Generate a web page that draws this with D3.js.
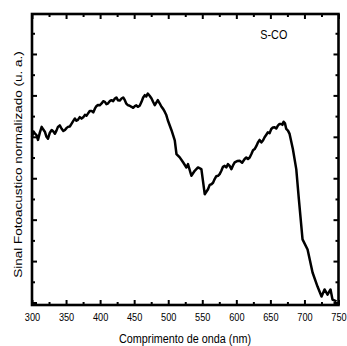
<!DOCTYPE html>
<html>
<head>
<meta charset="utf-8">
<script src="https://cdn.jsdelivr.net/npm/d3@7"></script>
<style>
body { margin: 0; background: #fff; }
text { font-family: "Liberation Sans", Arial, sans-serif; fill: #000; }
</style>
</head>
<body>
<svg width="347" height="346"></svg>
<script>
// wavelength (nm) and normalized photoacoustic signal
var wavelength = [300, 302.2, 304.4, 306.6, 308.8, 311.5, 314.2, 316.6, 319.1, 321.3,
  323.5, 326.2, 328.9, 331.3, 333.7, 335.9, 338.1, 340.8, 343.5, 346,
  348.4, 350.6, 352.8, 355.5, 358.2, 360.6, 363, 365.2, 367.4, 370.1,
  372.8, 375.2, 377.7, 379.9, 382.1, 384.8, 387.5, 389.9, 392.3, 394.5,
  396.7, 399.4, 402.2, 404.6, 407, 409.2, 411.4, 414.1, 416.8, 419.2,
  421.7, 423.9, 426.1, 428.8, 431.5, 433.9, 436.3, 438.5, 440.7, 443.4,
  446.1, 448.5, 451, 453.2, 455.4, 458.1, 460.8, 463.2, 465.6, 467.8,
  470, 472.7, 475.5, 477.9, 480.3, 482.5, 484.7, 487.4, 490.1, 492.5,
  495, 497.2, 499.4, 504.8, 509.6, 512.1, 516.9, 521.8, 526.7, 529,
  534, 538.9, 543.7, 548.7, 551, 553.6, 558.4, 560.9, 563.4, 565.8,
  568.2, 570.6, 573.1, 575.5, 578, 580.4, 582.9, 585.3, 587.7, 590.2,
  592.7, 595.1, 597.6, 601.2, 604.9, 608.5, 612.2, 614.6, 617.1, 619.6,
  622.1, 624.5, 626.9, 629.3, 631.7, 634.2, 636.7, 639.1, 641.5, 644,
  646.4, 648.9, 651.3, 653.7, 656.2, 658.6, 661, 663.5, 666, 667.7,
  669.4, 671.4, 673.3, 675.8, 678.2, 683, 688, 691.8, 697.2, 704.6,
  711.9, 719.2, 725.1, 729.5, 733.9, 738.3, 741.2, 747.1];
var signal = [0.799, 0.826, 0.815, 0.808, 0.785, 0.820, 0.848, 0.835, 0.823, 0.800,
  0.791, 0.820, 0.833, 0.826, 0.815, 0.830, 0.848, 0.855, 0.839, 0.828,
  0.833, 0.842, 0.848, 0.850, 0.864, 0.877, 0.888, 0.878, 0.882, 0.895,
  0.888, 0.894, 0.906, 0.902, 0.912, 0.925, 0.925, 0.918, 0.936, 0.948,
  0.954, 0.952, 0.961, 0.972, 0.969, 0.958, 0.961, 0.972, 0.977, 0.972,
  0.985, 0.990, 0.977, 0.975, 0.985, 0.990, 0.977, 0.960, 0.953, 0.950,
  0.945, 0.940, 0.948, 0.952, 0.945, 0.950, 0.969, 0.990, 1.001, 0.995,
  1.009, 0.998, 0.985, 0.968, 0.953, 0.965, 0.977, 0.962, 0.945, 0.935,
  0.920, 0.905, 0.880, 0.832, 0.783, 0.717, 0.701, 0.677, 0.652, 0.668,
  0.612, 0.636, 0.652, 0.644, 0.587, 0.523, 0.547, 0.568, 0.571, 0.578,
  0.596, 0.610, 0.612, 0.620, 0.636, 0.655, 0.660, 0.652, 0.668, 0.660,
  0.644, 0.662, 0.677, 0.683, 0.684, 0.675, 0.693, 0.700, 0.693, 0.700,
  0.717, 0.735, 0.741, 0.755, 0.773, 0.785, 0.773, 0.782, 0.798, 0.810,
  0.822, 0.818, 0.838, 0.845, 0.846, 0.840, 0.854, 0.862, 0.862, 0.858,
  0.873, 0.865, 0.838, 0.830, 0.814, 0.741, 0.644, 0.499, 0.305, 0.256,
  0.145, 0.077, 0.029, 0.063, 0.038, 0.063, 0.014, 0.005];

var xMajor = [300, 350, 400, 450, 500, 550, 600, 650, 700, 750];
var xMinor = [325, 375, 425, 475, 525, 575, 625, 675, 725];
var yMajor = [0, 0.2, 0.4, 0.6, 0.8, 1.0, 1.2];
var yMinor = [0.1, 0.3, 0.5, 0.7, 0.9, 1.1, 1.3];

var sampleLabel = "S-CO",
    xTitle = "Comprimento de onda (nm)",
    yTitle = "Sinal Fotoacustico normalizado (u. a.)";

var svg = d3.select("svg"),
    margin = {top: 14, right: 8.5, bottom: 41, left: 32},
    width = svg.attr("width") - margin.left - margin.right,
    height = svg.attr("height") - margin.top - margin.bottom,
    g = svg.append("g").attr("transform", "translate(" + margin.left + "," + margin.top + ")");

var x = d3.scaleLinear().domain([300, 750]).range([0, width]),
    y = d3.scaleLinear().domain([-0.012, 1.393]).range([height, 0]);

var data = wavelength.map(function(w, i) { return {w: w, v: signal[i]}; });

var line = d3.line()
    .x(function(d) { return x(d.w); })
    .y(function(d) { return y(d.v); });

function tidy(sel) {
  sel.select(".domain").remove();
  sel.selectAll(".tick line").attr("stroke", "#000").attr("stroke-width", 2);
}

// bottom
g.append("g").attr("transform", "translate(0," + height + ")")
    .call(d3.axisBottom(x).tickValues(xMajor).tickSize(-5).tickPadding(8.3).tickFormat(d3.format("d")))
    .call(tidy)
    .selectAll("text")
    .attr("transform", "scale(0.8,1)")
    .style("font-size", "11.5px");
g.append("g").attr("transform", "translate(0," + height + ")")
    .call(d3.axisBottom(x).tickValues(xMinor).tickSize(-3).tickFormat(""))
    .call(tidy);

// top
g.append("g")
    .call(d3.axisTop(x).tickValues(xMajor).tickSize(-5).tickFormat(""))
    .call(tidy);
g.append("g")
    .call(d3.axisTop(x).tickValues(xMinor).tickSize(-3).tickFormat(""))
    .call(tidy);

// left
g.append("g")
    .call(d3.axisLeft(y).tickValues(yMajor).tickSize(-5).tickFormat(""))
    .call(tidy);
g.append("g")
    .call(d3.axisLeft(y).tickValues(yMinor).tickSize(-3).tickFormat(""))
    .call(tidy);

// right
g.append("g").attr("transform", "translate(" + width + ",0)")
    .call(d3.axisRight(y).tickValues(yMajor).tickSize(-5).tickFormat(""))
    .call(tidy);
g.append("g").attr("transform", "translate(" + width + ",0)")
    .call(d3.axisRight(y).tickValues(yMinor).tickSize(-3).tickFormat(""))
    .call(tidy);

g.append("rect")
    .attr("width", width)
    .attr("height", height)
    .attr("fill", "none")
    .attr("stroke", "#000")
    .attr("stroke-width", 2.6);

g.append("path")
    .datum(data)
    .attr("fill", "none")
    .attr("stroke", "#000")
    .attr("stroke-width", 2.5)
    .attr("stroke-linejoin", "round")
    .attr("d", line);

g.append("text")
    .attr("transform", "translate(" + x(655) + ",25) scale(0.8,1)")
    .attr("text-anchor", "middle")
    .style("font-size", "13.5px")
    .text(sampleLabel);

svg.append("text")
    .attr("transform", "translate(185,343) scale(0.8,1)")
    .attr("text-anchor", "middle")
    .style("font-size", "13.5px")
    .text(xTitle);

svg.append("text")
    .attr("transform", "translate(22,164.5) scale(0.8,1) rotate(-90)")
    .attr("text-anchor", "middle")
    .style("font-size", "13.5px")
    .text(yTitle);
</script>
</body>
</html>
